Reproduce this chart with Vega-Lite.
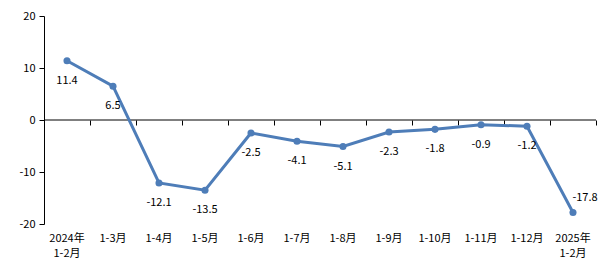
{
  "$schema": "https://vega.github.io/schema/vega-lite/v6.json",
  "width": 552,
  "height": 208,
  "autosize": {"type": "none"},
  "padding": {"left": 44, "top": 16, "right": 16, "bottom": 48},
  "background": "white",
  "config": {
    "view": {"stroke": null},
    "font": "Noto Sans CJK SC",
    "axis": {"labelFont": "Noto Sans CJK SC", "labelFontSize": 11, "labelColor": "#000000", "grid": false}
  },
  "data": {
    "values": [
      {"period": "2024年 1-2月", "value": 11.4},
      {"period": "1-3月", "value": 6.5},
      {"period": "1-4月", "value": -12.1},
      {"period": "1-5月", "value": -13.5},
      {"period": "1-6月", "value": -2.5},
      {"period": "1-7月", "value": -4.1},
      {"period": "1-8月", "value": -5.1},
      {"period": "1-9月", "value": -2.3},
      {"period": "1-10月", "value": -1.8},
      {"period": "1-11月", "value": -0.9},
      {"period": "1-12月", "value": -1.2},
      {"period": "2025年 1-2月", "value": -17.8}
    ]
  },
  "resolve": {"axis": {"x": "independent"}},
  "layer": [
    {
      "data": {"values": [{"z": 0}]},
      "mark": {"type": "rule", "color": "#000000", "strokeWidth": 1},
      "encoding": {"y": {"datum": 0, "type": "quantitative", "scale": {"domain": [-20, 20], "nice": false}}}
    },
    {
      "mark": {"type": "line", "color": "#4E7DB8", "strokeWidth": 3},
      "encoding": {
        "x": {"field": "period", "type": "ordinal", "sort": null, "scale": {"type": "band", "paddingInner": 0, "paddingOuter": 0},
          "axis": {"title": null, "orient": "bottom", "offset": -104, "domain": false, "labels": false, "ticks": true, "tickBand": "extent", "tickSize": 5, "tickColor": "#000000"}},
        "y": {"field": "value", "type": "quantitative", "scale": {"domain": [-20, 20], "nice": false},
          "axis": {"title": null, "values": [-20, -10, 0, 10, 20], "labelExpr": "'' + datum.value", "domainColor": "#000000", "tickColor": "#000000", "tickSize": 5, "labelPadding": 4}}
      }
    },
    {
      "mark": {"type": "point", "filled": true, "opacity": 1, "color": "#4E7DB8", "size": 50},
      "encoding": {
        "x": {"field": "period", "type": "ordinal", "sort": null,
          "axis": {"title": null, "orient": "bottom", "domain": false, "ticks": false, "labelAngle": 0, "labelPadding": 8, "labelExpr": "split(datum.label, ' ')", "labelLineHeight": 15}},
        "y": {"field": "value", "type": "quantitative"}
      }
    },
    {
      "transform": [{"filter": "datum.period != '2025年 1-2月'"}],
      "mark": {"type": "text", "fontSize": 11, "color": "#000000", "dy": 20, "baseline": "middle"},
      "encoding": {
        "x": {"field": "period", "type": "ordinal", "sort": null, "axis": null},
        "y": {"field": "value", "type": "quantitative"},
        "text": {"field": "value", "type": "nominal"}
      }
    },
    {
      "transform": [{"filter": "datum.period == '2025年 1-2月'"}],
      "mark": {"type": "text", "fontSize": 11, "color": "#000000", "dy": -15, "dx": 12, "baseline": "middle"},
      "encoding": {
        "x": {"field": "period", "type": "ordinal", "sort": null, "axis": null},
        "y": {"field": "value", "type": "quantitative"},
        "text": {"field": "value", "type": "nominal"}
      }
    }
  ]
}
